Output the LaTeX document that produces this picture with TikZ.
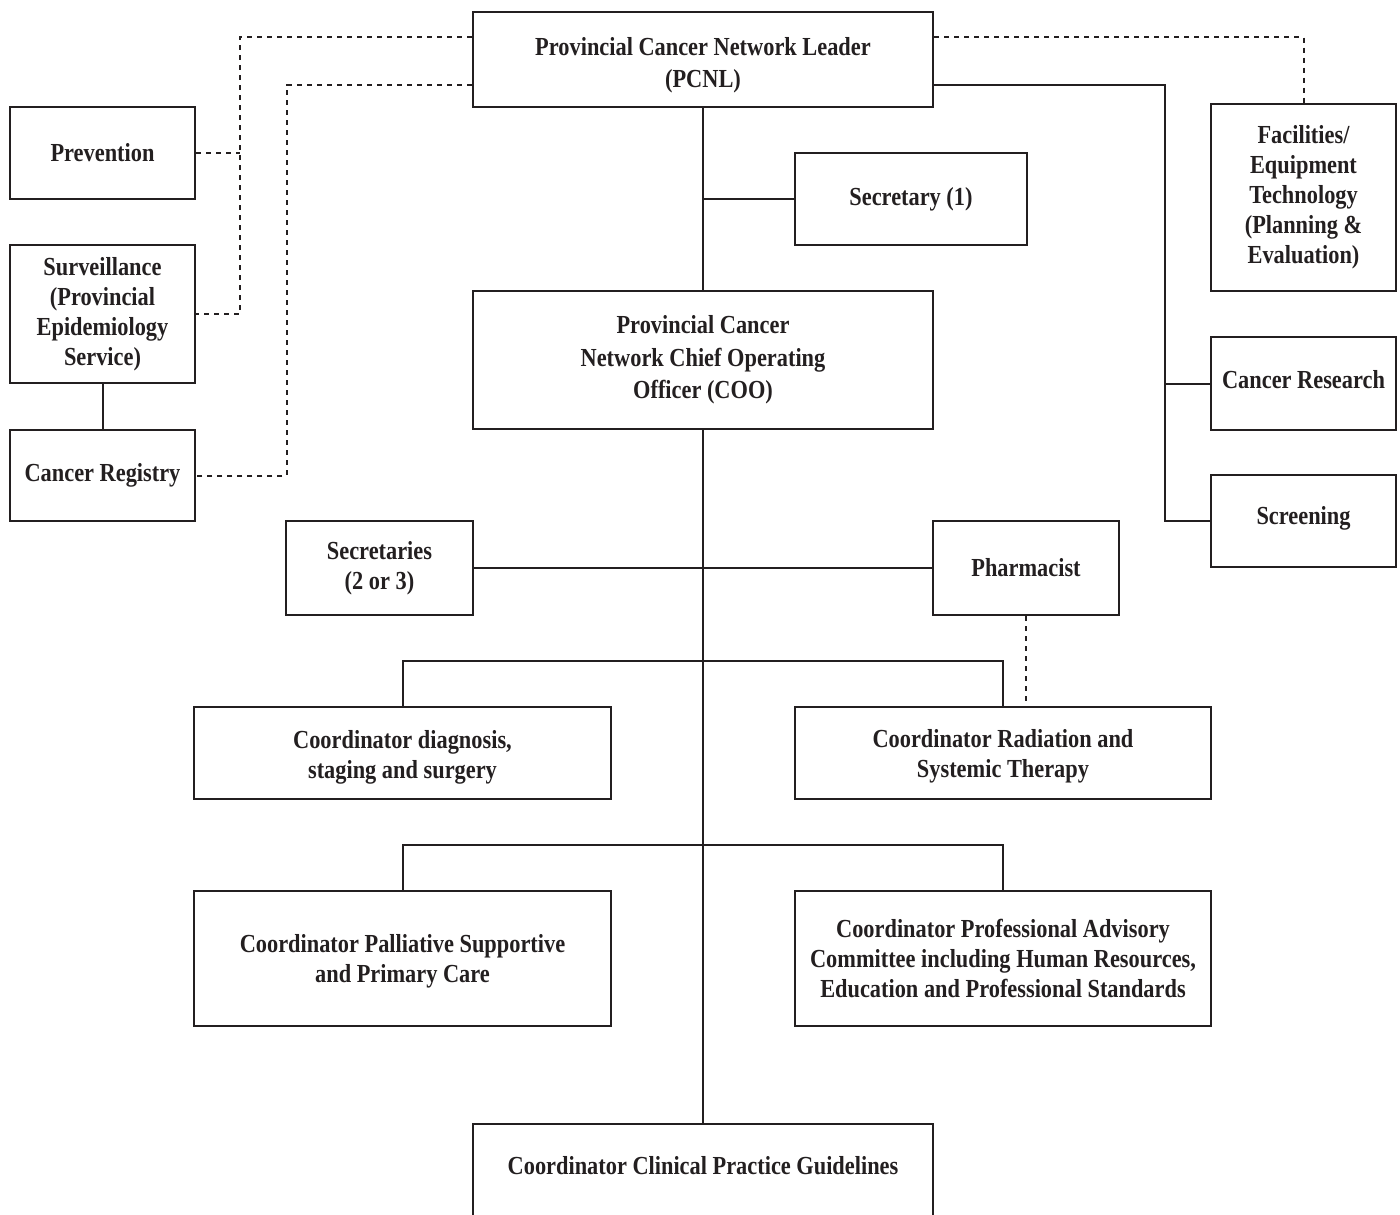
\documentclass[tikz,border=0pt]{standalone}
\usepackage{fontspec}
\setmainfont{Liberation Serif}[FakeStretch=0.86]
\definecolor{ink}{HTML}{231F20}
\newcommand\boxfont{\bfseries\fontsize{26}{30}\selectfont}
\newcommand\boxfontwide{\bfseries\fontsize{26}{32.5}\selectfont}
\tikzset{
  box/.style={draw=ink, line width=2.4pt, align=center, inner sep=0pt, text=ink, font=\boxfont},
  txt/.style={align=center, inner sep=0pt, text=ink, font=\boxfont},
  conn/.style={draw=ink, line width=2pt},
  dotline/.style={conn, dash pattern=on 5pt off 5pt},
}
\begin{document}
\begin{tikzpicture}[x=1pt,y=-1pt]
\useasboundingbox (0,0) rectangle (1400,1215);
\clip (0,0) rectangle (1400,1215);
% boxes
\node[box, minimum width=460, minimum height=95] (pcnl) at (703,59.5) {};
\node[txt, font=\boxfontwide] (pcnlt) at (703,65) {Provincial Cancer Network Leader\\(PCNL)};
\node[box, minimum width=232, minimum height=92] (sec1) at (911,199) {Secretary (1)};
\node[box, minimum width=460, minimum height=138, font=\boxfontwide] (coo) at (703,360) {Provincial Cancer\\Network Chief Operating\\Officer (COO)};
\node[box, minimum width=185, minimum height=92] (prev) at (102.5,153) {Prevention};
\node[box, minimum width=185, minimum height=138] (surv) at (102.5,314) {Surveillance\\(Provincial\\Epidemiology\\Service)};
\node[box, minimum width=185, minimum height=91] (reg) at (102.5,475.5) {Cancer Registry};
\node[box, minimum width=185, minimum height=187] (fac) at (1303.5,197.5) {Facilities/\\Equipment\\Technology\\(Planning \&\\Evaluation)};
\node[box, minimum width=185, minimum height=93] (res) at (1303.5,383.5) {};
\node[txt] (rest) at (1303.5,380) {Cancer Research};
\node[box, minimum width=185, minimum height=92] (scr) at (1303.5,521) {};
\node[txt] (scrt) at (1303.5,518) {Screening};
\node[box, minimum width=187, minimum height=94] (secs) at (379.5,568) {Secretaries\\(2 or 3)};
\node[box, minimum width=186, minimum height=94] (pharm) at (1026,568) {Pharmacist};
\node[box, minimum width=417, minimum height=92] (diag) at (402.5,753) {};
\node[txt] (diagt) at (402.5,757) {Coordinator diagnosis,\\staging and surgery};
\node[box, minimum width=416, minimum height=92] (rad) at (1003,753) {};
\node[txt] (radt) at (1003,756) {Coordinator Radiation and\\Systemic Therapy};
\node[box, minimum width=417, minimum height=135] (pall) at (402.5,958.5) {};
\node[txt] (pallt) at (402.5,961) {Coordinator Palliative Supportive\\and Primary Care};
\node[box, minimum width=416, minimum height=135] (prof) at (1003,958.5) {Coordinator Professional Advisory\\Committee including Human Resources,\\Education and Professional Standards};
\node[box, minimum width=460, minimum height=116] (cpg) at (703,1182) {};
\node[txt] (cpgt) at (703,1166) {Coordinator Clinical Practice Guidelines};
% coordinates
\coordinate (rj) at (1165,85);
\coordinate (lj) at (240,37);
\coordinate (lj2) at (287,85);
\coordinate (b1) at (703,661);
\coordinate (b2) at (703,845);
% solid connectors
\draw[conn] (pcnl.south) -- (coo.north);
\draw[conn] (coo.south) -- (cpg.north);
\draw[conn] (sec1.west) -- (sec1.west -| pcnl.south);
\draw[conn] (secs.east) -- (pharm.west);
\draw[conn] (diag.north) -- (diag.north |- b1) -- (rad.north |- b1) -- (rad.north);
\draw[conn] (pall.north) -- (pall.north |- b2) -- (prof.north |- b2) -- (prof.north);
\draw[conn] (pcnl.east |- rj) -- (rj) |- (scr.west);
\draw[conn] (res.west) -- (res.west -| rj);
\draw[conn] (surv.south) -- (reg.north);
% dotted connectors
\draw[dotline] (pharm.south) -- (pharm.south |- rad.north);
\draw[dotline] (pcnl.east |- lj) -| (fac.north);
\draw[dotline] (pcnl.west |- lj) -- (lj) |- (surv.east);
\draw[dotline] (prev.east) -- (prev.east -| lj);
\draw[dotline] (pcnl.west |- lj2) -- (lj2) |- (reg.east);
\end{tikzpicture}
\end{document}
